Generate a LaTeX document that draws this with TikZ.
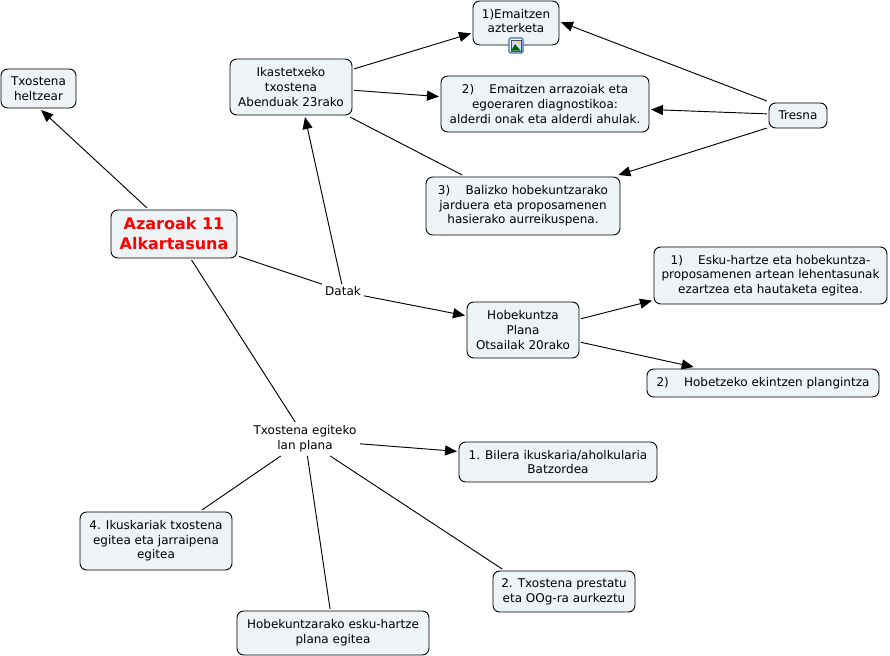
\documentclass[tikz,border=0pt]{standalone}
\usepackage{fontspec}
\setmainfont{DejaVu Sans}
\usepackage{xcolor}
\usepackage{tikz}
\usetikzlibrary{positioning,%
  arrows.meta%
}
\definecolor{boxfill}{HTML}{EEF3F6}
\definecolor{iconblue}{HTML}{2F6FC0}
\tikzset{
  concept/.style={draw=black,fill=boxfill,rounded corners=5pt,align=center,inner sep=0pt,outer sep=1.5pt,
    font=\fontsize{9}{11}\selectfont,line width=0.7pt},
  plain/.style={align=center,inner sep=0pt,outer sep=0pt,font=\fontsize{9}{11}\selectfont},
  link/.style={line width=0.7pt},
  arrowlink/.style={link,-{Triangle[length=9pt,width=7.5pt]}}
}
\begin{document}
\begin{tikzpicture}[x=0.75pt,y=-0.75pt]
            \useasboundingbox (0,0) rectangle (890,656);

            \node[concept,minimum width=75*0.75pt,minimum height=39*0.75pt] (heltzear) at (38.5,88.5) {Txostena\\heltzear};
            \node[concept,minimum width=122*0.75pt,minimum height=56*0.75pt] (ikastetxe) at (291,87) {Ikastetxeko\\txostena\\Abenduak 23rako};
            \node[concept,minimum width=86*0.75pt,minimum height=44*0.75pt] (emaitzen) at (516,23) {1)Emaitzen\\azterketa\rule[-3pt]{0pt}{0pt}};
            \node[concept,minimum width=208*0.75pt,minimum height=56*0.75pt] (arrazoiak) at (545,104) {2)\ \ \ \ Emaitzen arrazoiak eta\\egoeraren diagnostikoa:\\alderdi onak eta alderdi ahulak.};
            \node[concept,minimum width=194*0.75pt,minimum height=58*0.75pt] (balizko) at (523,206) {3)\ \ \ \ Balizko hobekuntzarako\\jarduera eta proposamenen\\hasierako aurreikuspena.};
            \node[concept,minimum width=58*0.75pt,minimum height=25*0.75pt] (tresna) at (798,115.5) {Tresna};
            \node[concept,minimum width=126*0.75pt,minimum height=48*0.75pt,text=red,
              font=\fontsize{12}{15}\selectfont\bfseries] (azaroak) at (174,234) {Azaroak 11\\Alkartasuna};
            \node[plain,minimum width=42*0.75pt,minimum height=14*0.75pt] (datak) at (343,291) {Datak};
            \node[concept,minimum width=112*0.75pt,minimum height=56*0.75pt] (plana) at (523,330) {Hobekuntza\\Plana\\Otsailak 20rako};
            \node[concept,minimum width=233*0.75pt,minimum height=57*0.75pt] (eskuhartze) at (770.5,275.5) {1)\ \ \ \ Esku-hartze eta hobekuntza-\\proposamenen artean lehentasunak\\ezartzea eta hautaketa egitea.};
            \node[concept,minimum width=232*0.75pt,minimum height=28*0.75pt] (hobetzeko) at (763,383) {2)\ \ \ \ Hobetzeko ekintzen plangintza};
            \node[plain,minimum width=110*0.75pt,minimum height=34*0.75pt] (lanplana) at (305,439) {Txostena egiteko\\lan plana};
            \node[concept,minimum width=198*0.75pt,minimum height=40*0.75pt] (bilera) at (558,462) {1. Bilera ikuskaria/aholkularia\\Batzordea};
            \node[concept,minimum width=152*0.75pt,minimum height=58*0.75pt] (ikuskariak) at (156,541) {4. Ikuskariak txostena\\egitea eta jarraipena\\egitea};
            \node[concept,minimum width=192*0.75pt,minimum height=44*0.75pt] (eskuplana) at (333,633) {Hobekuntzarako esku-hartze\\plana egitea};
            \node[concept,minimum width=142*0.75pt,minimum height=41*0.75pt] (prestatu) at (564,591.5) {2. Txostena prestatu\\eta OOg-ra aurkeztu};

            \draw[iconblue,fill=white,rounded corners=1pt,line width=0.8pt] (509,38) rectangle (523,53);
            \draw[black!70,fill=blue!15,line width=0.4pt] (511,40) rectangle (521,51);
            \fill[green!40!black] (511.3,50.7) -- (515,44) -- (520.7,50.7) -- cycle;
            \fill[yellow!70!orange] (518.5,42.5) circle (1.5);

            \foreach \from/\to in {azaroak.136/heltzear.-83.4,
                datak.100.5/ikastetxe.-65,
                datak.-13.4/plana.166.2,
                ikastetxe.16/emaitzen.-167.5,
                ikastetxe.-3.7/arrazoiak.176.7,
                tresna.155/emaitzen.1.3,
                tresna.177/arrazoiak.-3.2,
                tresna.-158.4/balizko.18.2,
                plana.11.7/eskuhartze.192,
                plana.-12.6/hobetzeko.167.5,
                lanplana.-5.2/bilera.174.9} {
                \draw[arrowlink] (\from) -- (\to);
            }
            \foreach \from/\to in {azaroak.-19/datak.162.8,
                azaroak.-56.8/lanplana.120.5,
                ikastetxe.-27.3/balizko.153,
                lanplana.-145/ikuskariak.34.6,
                lanplana.-82.3/eskuplana.97.1,
                lanplana.-34.2/prestatu.160.7} {
                \draw[link] (\from) -- (\to);
            }
\end{tikzpicture}
\end{document}
